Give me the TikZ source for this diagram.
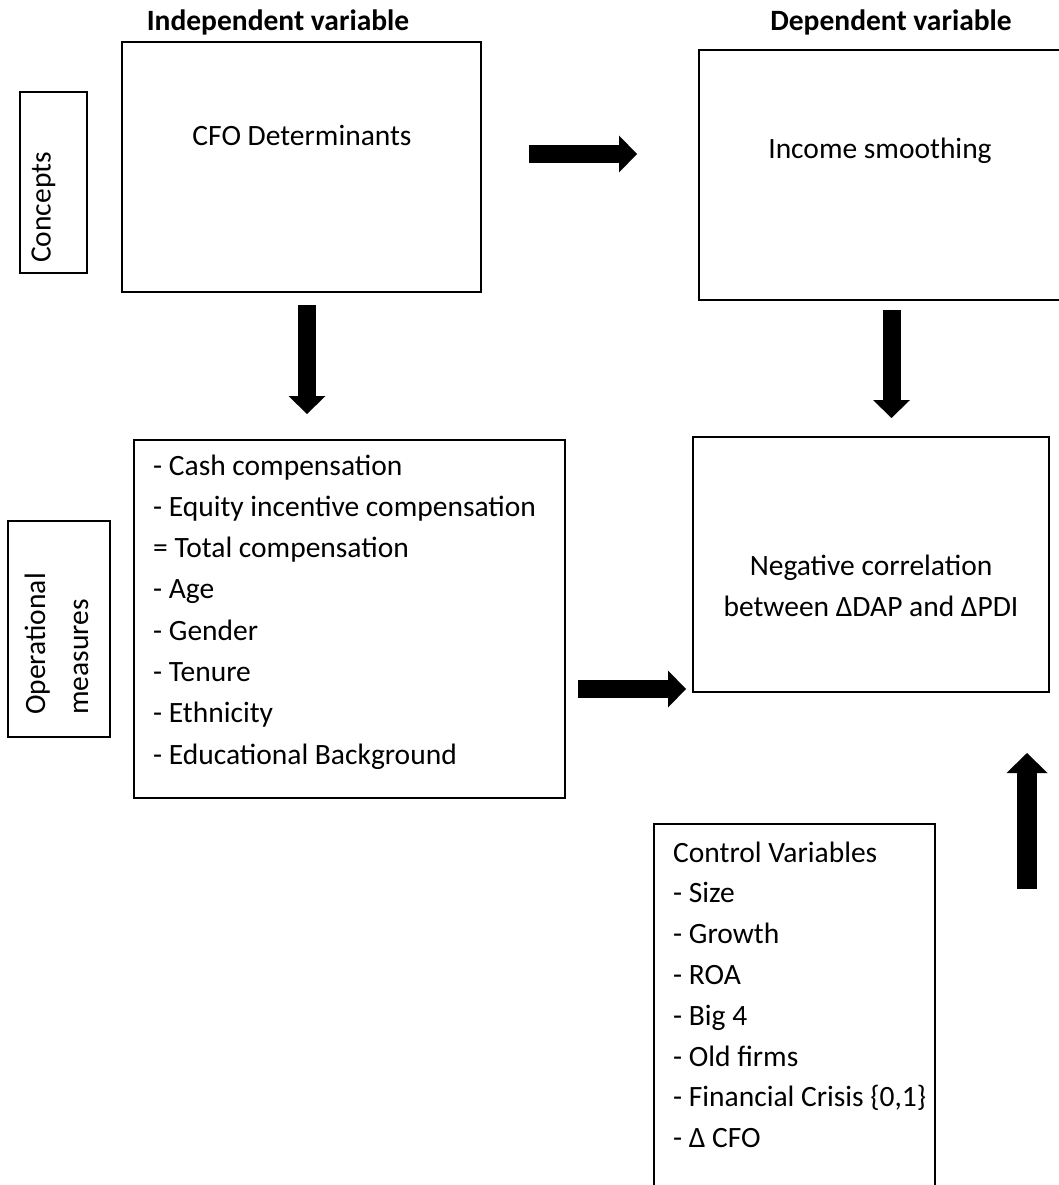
\documentclass[tikz,border=0pt]{standalone}
\usepackage{fontspec}
\setmainfont{Carlito}
\usetikzlibrary{arrows.meta,positioning}

\begin{document}
\begin{tikzpicture}
[
	x=1pt,y=-1pt,
	box/.style={rectangle,draw=black,line width=1.3pt,inner sep=0pt},
	txt/.style={inner sep=0pt,font=\fontsize{29.5}{41}\selectfont},
	head/.style={inner sep=0pt,font=\fontsize{29.5}{41}\selectfont\bfseries},
	bigarrow/.style={line width=18pt,-{Triangle[length=18pt,width=37pt,line width=0pt]}},
]
	\useasboundingbox (0,0) rectangle (1059,1185);

	\begin{scope}
		\node[head,anchor=base] (indep) at (278,31) {Independent variable};
		\node[head,anchor=base] (dep) at (891,31) {Dependent variable};
	\end{scope}

	\begin{scope}
		\node[box,minimum width=67,minimum height=181] (concepts) at (53.5,182.5) {};
		\node[txt,rotate=90,anchor=base west] (conceptstxt) at (50.5,263) {Concepts};
		\node[box,minimum width=102,minimum height=216] (oper) at (59,629) {};
		\node[txt,rotate=90,anchor=base west] (opertxt1) at (45,715) {Operational};
		\node[txt,rotate=90,anchor=base west] (opertxt2) at (88,715) {measures};
	\end{scope}

	\begin{scope}
		\node[box,minimum width=359,minimum height=250] (cfo) at (301.5,167) {};
		\node[txt,anchor=base] (cfotxt) at (302,146) {CFO Determinants};
		\node[box,minimum width=371,minimum height=250] (inc) at (884.5,175) {};
		\node[txt,anchor=base] (inctxt) at (880,159) {Income smoothing};
	\end{scope}

	\begin{scope}
		\node[box,minimum width=431,minimum height=358] (meas) at (349.5,619) {};
		\foreach \m [count=\i from 0] in {- Cash compensation,- Equity incentive compensation,= Total compensation,- Age,- Gender,- Tenure,- Ethnicity,- Educational Background}
			\node[txt,anchor=base west] (meas\i) at (153,475+41.3*\i) {\m};
		\node[box,minimum width=356,minimum height=255] (negcor) at (871,564.5) {};
		\node[txt,align=center] (negcortxt) at (871,586) {Negative correlation\\between ΔDAP and ΔPDI};
	\end{scope}

	\begin{scope}
		\node[box,minimum width=281,minimum height=380] (ctrl) at (794.5,1014) {};
		\foreach \c [count=\i from 0] in {Control Variables,- Size,- Growth,- ROA,- Big 4,- Old firms,{- Financial Crisis \{0,1\}},- Δ CFO}
			\node[txt,anchor=base west] (ctrl\i) at (673,862+40.8*\i) {\c};
	\end{scope}

	\begin{scope}
		\coordinate (r1a) at (529,154);
		\coordinate (r1b) at (637,154);
		\coordinate (r2a) at (578,689);
		\coordinate (r2b) at (686,689);
		\coordinate (d1a) at (307,305);
		\coordinate (d1b) at (307,414);
		\coordinate (d2a) at (891.5,310);
		\coordinate (d2b) at (891.5,418);
		\coordinate (u1a) at (1027,889);
		\coordinate (u1b) at (1027,753);
		\draw[bigarrow] (r1a) -- (r1b);
		\draw[bigarrow] (r2a) -- (r2b);
		\draw[bigarrow] (d1a) -- (d1b);
		\draw[bigarrow] (d2a) -- (d2b);
		\draw[bigarrow,line width=20pt,-{Triangle[length=20pt,width=41pt,line width=0pt]}] (u1a) -- (u1b);
	\end{scope}
\end{tikzpicture}
\end{document}
